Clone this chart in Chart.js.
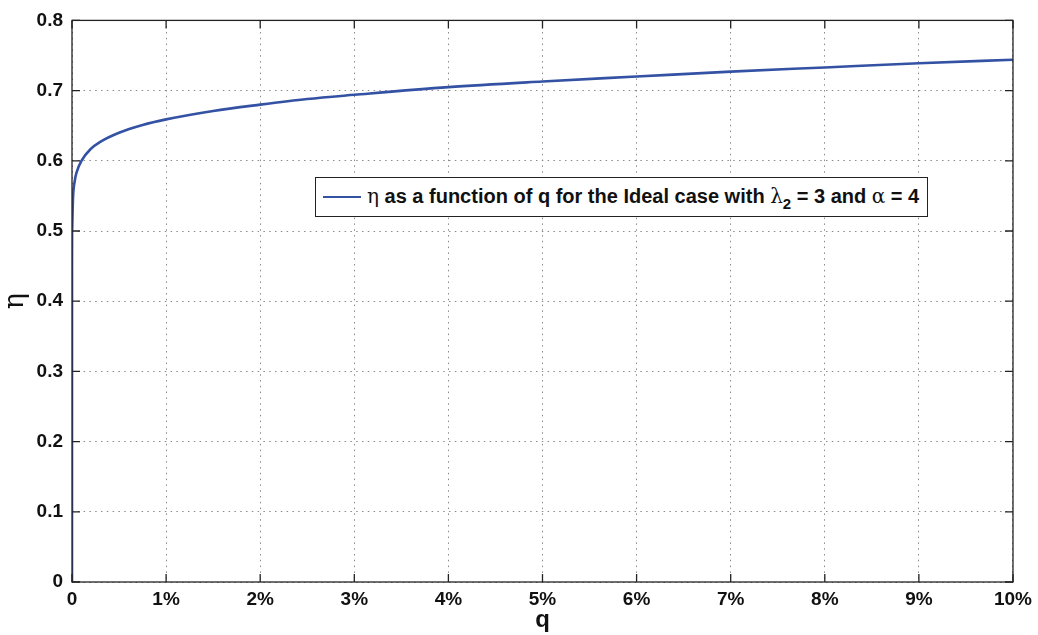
<!DOCTYPE html>
<html lang="en">
<head>
    <meta charset="UTF-8">
    <title>eta vs q</title>
    <script src="https://cdn.jsdelivr.net/npm/chart.js"></script>
    <style>
        html, body { margin: 0; padding: 0; background: #fff; }
        .wrap { position: relative; width: 1038px; height: 635px; }
        #legendBox {
            position: absolute;
            left: 315px;
            top: 177px;
            width: 613px;
            height: 40px;
            border: 1.5px solid #222;
            background: #fff;
            font: bold 20px "Liberation Sans", Arial, Helvetica, sans-serif;
            color: #111;
            display: flex;
            align-items: center;
            white-space: nowrap;
            box-sizing: border-box;
            padding-bottom: 3px;
        }
        #legendBox .swatch {
            display: inline-block;
            width: 38px;
            height: 0;
            border-top: 2.5px solid #3452a4;
            margin: 3px 6px 0 7px;
        }
        #legendBox .sym { font-family: "DejaVu Serif", "Liberation Serif", serif; font-weight: normal; }
        #legendBox sub { font-size: 15px; vertical-align: -6px; line-height: 0; }
    </style>
</head>
<body>
    <div class="wrap">
        <canvas id="chart" width="1038" height="635"></canvas>
        <div id="legendBox">
            <span class="swatch"></span>
            <span><span class="sym">η</span> as a function of q for the Ideal case with <span class="sym">λ</span><sub>2</sub> = 3 and <span class="sym">α</span> = 4</span>
        </div>
    </div>
    <script>
        // q in percent, eta
        const qValues = [0, 0.0001, 0.001, 0.01, 0.03, 0.05, 0.1, 0.2, 0.3, 0.5, 0.75, 1, 1.5, 2, 2.5, 3, 4, 5, 6, 7, 8, 9, 10];
        const etaValues = [0, 0.45, 0.50, 0.545, 0.572, 0.584, 0.600, 0.617, 0.627, 0.640, 0.651, 0.659, 0.671, 0.680, 0.688, 0.694, 0.705, 0.713, 0.720, 0.727, 0.733, 0.739, 0.744];
        const xTicks = [0, 1, 2, 3, 4, 5, 6, 7, 8, 9, 10];
        const yTicks = [0, 0.1, 0.2, 0.3, 0.4, 0.5, 0.6, 0.7, 0.8];

        const FONT = '"Liberation Sans", Arial, Helvetica, sans-serif';

        // box frame + matlab style inward ticks
        const boxPlugin = {
            id: 'boxPlugin',
            afterDraw(chart) {
                const ctx = chart.ctx;
                const a = chart.chartArea;
                const xs = chart.scales.x, ys = chart.scales.y;
                ctx.save();
                ctx.strokeStyle = '#222';
                ctx.lineWidth = 1.3;
                ctx.setLineDash([]);
                ctx.strokeRect(a.left, a.top, a.right - a.left, a.bottom - a.top);
                ctx.beginPath();
                xTicks.forEach(v => {
                    const px = xs.getPixelForValue(v);
                    ctx.moveTo(px, a.bottom); ctx.lineTo(px, a.bottom - 8);
                    ctx.moveTo(px, a.top); ctx.lineTo(px, a.top + 8);
                });
                yTicks.forEach(v => {
                    const py = ys.getPixelForValue(v);
                    ctx.moveTo(a.left, py); ctx.lineTo(a.left + 8, py);
                    ctx.moveTo(a.right, py); ctx.lineTo(a.right - 8, py);
                });
                ctx.stroke();
                ctx.restore();
            }
        };

        new Chart(document.getElementById('chart'), {
            type: 'line',
            data: {
                datasets: [{
                    label: 'eta',
                    data: qValues.map((q, i) => ({ x: q, y: etaValues[i] })),
                    borderColor: '#3452a4',
                    borderWidth: 2.6,
                    pointRadius: 0,
                    fill: false,
                    cubicInterpolationMode: 'monotone'
                }]
            },
            options: {
                responsive: false,
                animation: false,
                layout: { padding: { top: 17, right: 25, left: 0, bottom: 0 } },
                plugins: { legend: { display: false }, tooltip: { enabled: false } },
                scales: {
                    x: {
                        type: 'linear',
                        min: 0,
                        max: 10,
                        afterBuildTicks(scale) { scale.ticks = xTicks.map(v => ({ value: v })); },
                        afterFit(scale) { scale.height = 53; },
                        ticks: {
                            padding: 6,
                            color: '#111',
                            font: { family: FONT, size: 19, weight: 'bold' },
                            callback: v => v === 0 ? '0' : v + '%'
                        },
                        grid: {
                            color: '#8a8a8a',
                            lineWidth: 1,
                            drawTicks: false
                        },
                        border: { display: false, dash: [1.5, 4.3] },
                        title: {
                            display: true,
                            text: 'q',
                            color: '#111',
                            font: { family: FONT, size: 24, weight: 'bold' },
                            padding: { top: 0, bottom: 0 }
                        }
                    },
                    y: {
                        min: 0,
                        max: 0.8,
                        afterBuildTicks(scale) { scale.ticks = yTicks.map(v => ({ value: v })); },
                        afterFit(scale) { scale.width = 72; },
                        ticks: {
                            padding: 9,
                            color: '#111',
                            font: { family: FONT, size: 19, weight: 'bold' },
                            callback: v => v === 0 ? '0' : v.toFixed(1)
                        },
                        grid: {
                            color: '#8a8a8a',
                            lineWidth: 1,
                            drawTicks: false
                        },
                        border: { display: false, dash: [1.5, 4.3] },
                        title: {
                            display: true,
                            text: 'η',
                            color: '#111',
                            font: { family: '"DejaVu Serif", "Liberation Serif", serif', size: 27 },
                            padding: { top: 0, bottom: 0 }
                        }
                    }
                }
            },
            plugins: [boxPlugin]
        });
    </script>
</body>
</html>
